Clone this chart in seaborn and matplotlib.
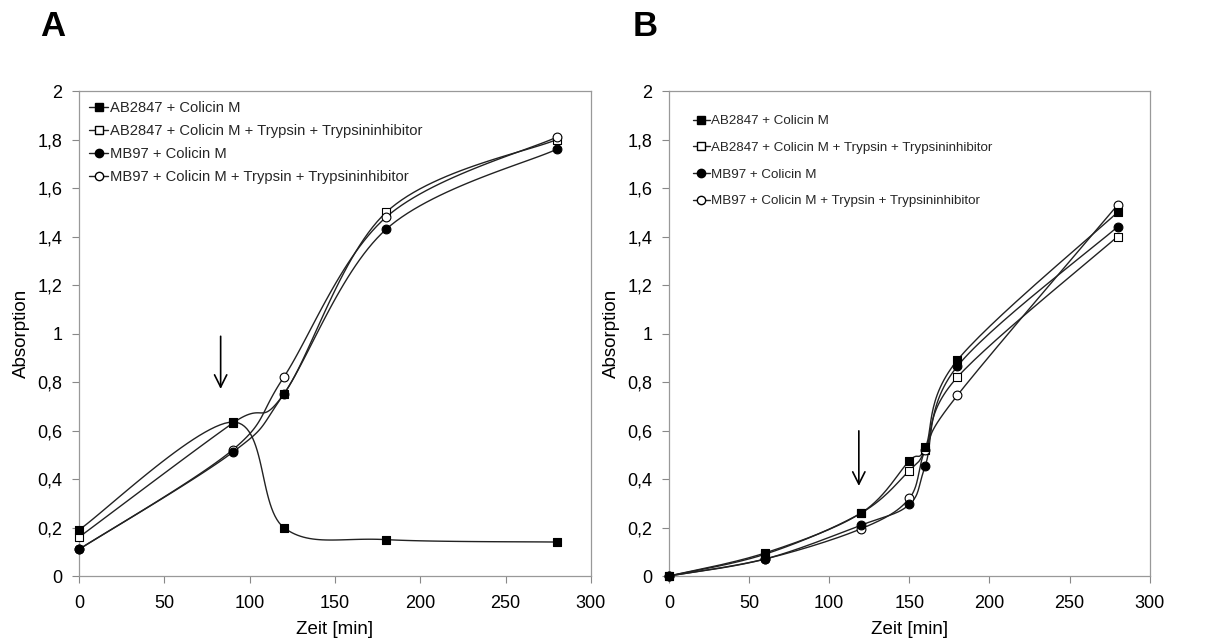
import numpy as np
import pandas as pd
import matplotlib
matplotlib.use("Agg")
import matplotlib.pyplot as plt
import seaborn as sns
from matplotlib.lines import Line2D
from matplotlib.ticker import FuncFormatter

# panel A values
zeit_a = [0, 90, 120, 180, 280]
ab_cm_a = [0.19, 0.635, 0.20, 0.15, 0.14]
ab_tryp_a = [0.16, 0.63, 0.75, 1.50, 1.80]
mb_cm_a = [0.11, 0.51, 0.75, 1.43, 1.76]
mb_tryp_a = [0.11, 0.52, 0.82, 1.48, 1.81]

# panel B values
zeit_b = [0, 60, 120, 150, 160, 180, 280]
ab_cm_b = [0.0, 0.095, 0.26, 0.475, 0.53, 0.89, 1.50]
ab_tryp_b = [0.0, 0.09, 0.26, 0.435, 0.52, 0.82, 1.40]
mb_cm_b = [0.0, 0.07, 0.21, 0.295, 0.455, 0.865, 1.44]
mb_tryp_b = [0.0, 0.07, 0.195, 0.32, 0.52, 0.745, 1.53]

labels = ["AB2847 + Colicin M",
          "AB2847 + Colicin M + Trypsin + Trypsininhibitor",
          "MB97 + Colicin M",
          "MB97 + Colicin M + Trypsin + Trypsininhibitor"]
markers = ["s", "s", "o", "o"]
faces = ["black", "white", "black", "white"]
draw_order = [1, 3, 0, 2]  # filled markers end up on top


def smooth(x, y, xr=300.0, yr=2.0, n=30):
    """Excel-like smoothed line (parametric Catmull-Rom in screen-ish space)"""
    p = np.column_stack([np.asarray(x, float) / xr, np.asarray(y, float) / yr])
    p = np.vstack([p[0], p, p[-1]])
    out = []
    for i in range(1, len(p) - 2):
        p0, p1, p2, p3 = p[i - 1], p[i], p[i + 1], p[i + 2]
        c1 = p1 + (p2 - p0) / 6
        c2 = p2 - (p3 - p1) / 6
        t = np.linspace(0, 1, n)[:, None]
        seg = ((1 - t) ** 3) * p1 + 3 * ((1 - t) ** 2) * t * c1 + 3 * (1 - t) * t ** 2 * c2 + t ** 3 * p2
        out.append(seg if i == 1 else seg[1:])
    s = np.vstack(out)
    return s[:, 0] * xr, s[:, 1] * yr


def draw_panel(ax, zeit, series, arrow_x, arrow_top, arrow_bot, legend_kw):
    for vals in series:
        sx, sy = smooth(zeit, vals)
        curve = pd.DataFrame({"x": sx, "y": sy})
        sns.lineplot(data=curve, x="x", y="y", ax=ax, color="#222222", lw=1.0,
                     sort=False, estimator=None)
    # markers drawn after curves so they sit on top
    for i in draw_order:
        pts = pd.DataFrame({"Zeit": zeit, "Absorption": series[i]})
        sns.scatterplot(data=pts, x="Zeit", y="Absorption", ax=ax, marker=markers[i],
                        color=faces[i], edgecolor="black", linewidth=0.8,
                        s=40 if markers[i] == "o" else 34, zorder=5, clip_on=False)
    ax.annotate("", xy=(arrow_x, arrow_bot), xytext=(arrow_x, arrow_top),
                arrowprops=dict(arrowstyle="->", color="black", lw=1.2,
                                mutation_scale=22))
    ax.set_xlim(0, 300)
    ax.set_ylim(0, 2)
    ax.set_xticks(range(0, 301, 50))
    ax.set_yticks(np.arange(0, 2.01, 0.2))
    ax.yaxis.set_major_formatter(FuncFormatter(
        lambda v, _: ("%g" % round(v, 1)).replace(".", ",")))
    ax.set_xlabel("Zeit [min]", fontsize=13.5, labelpad=6, color="black")
    ax.set_ylabel("Absorption", fontsize=13.5, labelpad=5, color="black")
    ax.tick_params(axis="x", pad=9)
    ax.tick_params(labelsize=13, length=5, width=0.8, color="#888888",
                   labelcolor="black")
    ax.tick_params(axis="y", pad=7)
    for sp in ax.spines.values():
        sp.set_color("#999999")
        sp.set_linewidth(0.9)
    handles = [Line2D([], [], color="#222222", lw=1.0, marker=markers[i],
                      markerfacecolor=faces[i], markeredgecolor="black",
                      markersize=6) for i in range(4)]
    ax.legend(handles, labels, frameon=False, handlelength=1.3,
              handletextpad=0.1, borderaxespad=0.3, **legend_kw)


sns.set_theme(style="ticks")
plt.rcParams['font.family'] = ['Liberation Sans', 'DejaVu Sans']

fig = plt.figure(figsize=(12.23, 6.41), dpi=100)
ax_a = fig.add_axes([0.0646, 0.1014, 0.4186, 0.7566])
ax_b = fig.add_axes([0.547, 0.1014, 0.393, 0.7566])

draw_panel(ax_a, zeit_a, [ab_cm_a, ab_tryp_a, mb_cm_a, mb_tryp_a],
           83, 1.0, 0.76, dict(loc="upper left", labelspacing=0.6, fontsize=10.6))
draw_panel(ax_b, zeit_b, [ab_cm_b, ab_tryp_b, mb_cm_b, mb_tryp_b],
           118.5, 0.61, 0.36, dict(loc="upper left", labelspacing=1.08, fontsize=9.6,
                                   bbox_to_anchor=(0.03, 0.97)))

fig.text(0.033, 0.958, "A", fontsize=25, fontweight="bold", color="black",
         ha="left", va="center")
fig.text(0.517, 0.958, "B", fontsize=25, fontweight="bold", color="black",
         ha="left", va="center")

fig.savefig("out.png", dpi=100)
